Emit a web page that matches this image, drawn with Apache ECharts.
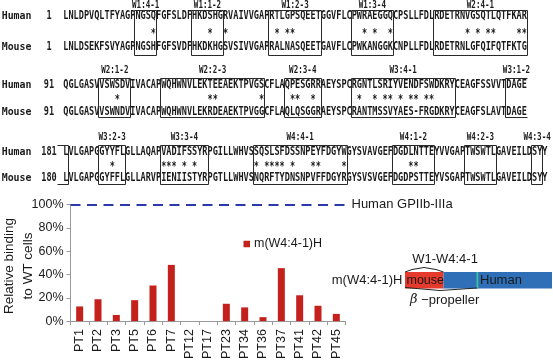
<!DOCTYPE html>
<html><head><meta charset="utf-8">
<script src="https://cdn.jsdelivr.net/npm/echarts@6/dist/echarts.min.js"></script>
<style>html,body{margin:0;padding:0;background:#fff}#c{width:553px;height:362px}</style>
</head><body><div id="c"></div>
<script>
// ---------- bar chart data ----------
const categories = ['PT1','PT2','PT3','PT5','PT6','PT7','PT12','PT17','PT23','PT34','PT36','PT37','PT41','PT42','PT45'];
const binding = [12.6, 18.8, 5.3, 18.0, 30.6, 48.3, 0, 0, 14.9, 11.8, 3.4, 45.5, 22.2, 13.2, 6.2];
const seriesName = 'm(W4:4-1)H';
const referenceLevel = 100;
const referenceName = 'Human GPIIb-IIIa';
const yTickLabels = ['0%','20%','40%','60%','80%','100%'];
const yAxisTitle = ['Relative binding', 'to WT cells'];

// ---------- alignment data ----------
const humanSeq = [
  'LNLDPVQLTFYAGPNGSQFGFSLDFHKDSHGRVAIVVGAPRTLGPSQEETGGVFLCPWRAEGGQCPSLLFDLRDETRNVGSQTLQTFKAR',
  'QGLGASVVSWSDVIVACAPWQHWNVLEKTEEAEKTPVGSCFLAQPESGRRAEYSPCRGNTLSRIYVENDFSWDKRYCEAGFSSVVTDAGE',
  'LVLGAPGGYYFLGLLAQAPVADIFSSYRPGILLWHVSSQSLSFDSSNPEYFDGYWGYSVAVGEFDGDLNTTEYVVGAPTWSWTLGAVEILDSYY'
];
const mouseSeq = [
  'LNLDSEKFSVYAGPNGSHFGFSVDFHKDKHGSVSIVVGAPRALNASQEETGAVFLCPWKANGGKCNPLLFDLRDETRNLGFQIFQTFKTG',
  'QGLGASVVSWNDVIVACAPWQHWNVLEKRDEAEKTPVGGCFLAQLQSGGRAEYSPCRANTMSSVYAES-FRGDKRYCEAGFSLAVTDAGE',
  'LVLGAPGGYFFLGLLARVPIENIISTYRPGTLLWHVSNQRFTYDNSNPVFFDGYRGYSVSVGEFDGDPSTTEYVSGAPTWSWTLGAVEILDSYY'
];
const humanStart = ['1', '91', '181'];
const mouseStart = ['1', '91', '180'];
const boxRanges = [
  [[14,17],[25,30],[40,49],[56,63],[72,89]],
  [[7,12],[19,38],[43,49],[56,75]],
  [[7,11],[19,27],[37,54],[64,71],[78,83],[91,92]]
];
const boxLabels = [
  ['W1:4-1','W1:1-2','W1:2-3','W1:3-4','W2:4-1'],
  ['W2:1-2','W2:2-3','W2:3-4','W3:4-1'],
  ['W3:2-3','W3:3-4','W4:4-1','W4:1-2','W4:2-3','W4:3-4']
];
const splitBoxLabel = 'W3:1-2';
const splitBoxStart = 86;  // row 2 index where the box opens; closes after first residue of row 3
const starIdx = [
  [17,28,31,41,43,44,58,60,63,78,80,82,83,88,89],
  [10,28,29,38,44,45,48,57,60,62,63,65,67,68,70,71],
  [9,19,20,21,23,25,37,39,40,41,42,44,48,49,54,67,68]
];

// ---------- layout ----------
const X0 = 63.3, CW = 5.15;
const ROWS = [
  {lab:5,    hum:16.5,  star:31.7,  mou:47.5,  top:10,   bot:55},
  {lab:70.5, hum:85.3,  star:97.5,  mou:112.5, top:78.3, bot:117.3},
  {lab:137,  hum:152,   star:164.5, mou:178.5, top:145,  bot:183.5}
];
const MONO = 'DejaVu Sans Mono';
const SANS = 'Liberation Sans';
const SEQ_FS = 11.5, SEQ_SX = CW / (0.602 * SEQ_FS);

function t(x, y, s, o) {
  o = o || {};
  const al = o.align || 'left';
  return {
    type: 'text', x: x, y: y, silent: true,
    scaleX: o.sx || 1, scaleY: o.sy || 1, rotation: o.rot || 0,
    style: {
      text: s, x: 0, y: 0,
      fontFamily: o.ff || MONO, fontSize: o.fs || SEQ_FS, fontWeight: o.fw || 'normal',
      fill: o.fill || '#1a1a1a',
      align: al, textAlign: al, verticalAlign: 'middle', textVerticalAlign: 'middle',
      rich: o.rich
    }
  };
}
function line(points, color) {
  return {type: 'polyline', silent: true, shape: {points: points},
    style: {fill: null, stroke: color || '#2a2a2a', lineWidth: 1}};
}

const g = [];
for (let r = 0; r < 3; r++) {
  const R = ROWS[r];
  g.push(t(1.7, R.hum, 'Human', {fs: 11, sx: 0.9, fw: 'bold'}));
  g.push(t(1.7, R.mou, 'Mouse', {fs: 11, sx: 0.9, fw: 'bold'}));
  g.push(t(49, R.hum, humanStart[r], {sx: SEQ_SX, align: 'center', fw: 'bold'}));
  g.push(t(49, R.mou, mouseStart[r], {sx: SEQ_SX, align: 'center', fw: 'bold'}));
  g.push(t(X0, R.hum, humanSeq[r], {sx: SEQ_SX, fw: 'bold'}));
  g.push(t(X0, R.mou, mouseSeq[r], {sx: SEQ_SX, fw: 'bold'}));
  boxRanges[r].forEach(function (b, k) {
    const x1 = Math.round(X0 + b[0] * CW) - 0.5;
    const x2 = Math.round(X0 + (b[1] + 1) * CW) + 0.5;
    const y1 = Math.round(R.top) + 0.5, y2 = Math.round(R.bot) + 0.5;
    g.push(line([[x1, y1], [x2, y1], [x2, y2], [x1, y2], [x1, y1]]));
    g.push(t(X0 + (b[0] + b[1] + 1) / 2 * CW, R.lab, boxLabels[r][k], {fs: 10.5, sx: 0.72, align: 'center', fw: 'bold'}));
  });
  starIdx[r].forEach(function (i) {
    g.push(t(X0 + (i + 0.5) * CW, R.star + 2.5, '*', {sx: SEQ_SX, align: 'center', fw: 'bold'}));
  });
}
// split box W3:1-2 (row 2 -> row 3)
(function () {
  const R = ROWS[1];
  const xs = Math.round(X0 + splitBoxStart * CW) - 0.5;
  const xe = Math.round(X0 + humanSeq[1].length * CW) + 0.5;
  const top = Math.round(R.top) + 0.5, bot = Math.round(R.bot) + 0.5;
  g.push(line([[xe, top], [xs, top], [xs, bot], [xe, bot]]));
  g.push(t(X0 + (splitBoxStart + humanSeq[1].length) / 2 * CW, R.lab, splitBoxLabel, {fs: 10.5, sx: 0.72, align: 'center', fw: 'bold'}));
  const R3 = ROWS[2];
  const xc = Math.round(X0 + CW) + 0.5;
  const t3 = Math.round(R3.top) + 0.5, b3 = Math.round(R3.bot) + 0.5;
  g.push(line([[57.5, t3], [xc, t3], [xc, b3], [57.5, b3]]));
})();

// y axis title
g.push(t(9.5, 266, yAxisTitle[0], {ff: SANS, fs: 13.5, rot: Math.PI / 2, align: 'center'}));
g.push(t(28.5, 266, yAxisTitle[1], {ff: SANS, fs: 13.5, rot: Math.PI / 2, align: 'center'}));

// construct diagram
g.push(t(402.5, 280, 'm(W4:4-1)H', {ff: SANS, fs: 13, align: 'right'}));
g.push({type: 'rect', silent: true, shape: {x: 405, y: 272, width: 38.5, height: 16.5, r: 0}, style: {fill: '#e63a2c', stroke: null}});
g.push({type: 'rect', silent: true, shape: {x: 443.5, y: 272, width: 108.5, height: 16.5, r: 0}, style: {fill: '#2f6fb7', stroke: null}});
g.push({type: 'rect', silent: true, shape: {x: 476.5, y: 272, width: 1.8, height: 16.5, r: 0}, style: {fill: '#3cc0a0', stroke: null}});
g.push(t(406.5, 280.5, 'mouse', {ff: SANS, fs: 12.5}));
g.push(t(480, 280.5, 'Human', {ff: SANS, fs: 13}));
g.push(line([[405, 272], [412, 269.5], [424, 267.5], [436, 269.5], [443.5, 272]], '#222'));
g.push(line([[405, 287.5], [440, 290.5], [477, 288]], '#222'));
g.push(t(445, 259.5, 'W1-W4:4-1', {ff: SANS, fs: 13, align: 'center'}));
g.push(t(410, 300, '{b|β} −propeller', {ff: SANS, fs: 13,
  rich: {b: {fontFamily: 'DejaVu Serif', fontStyle: 'italic', fontSize: 13, fill: '#1a1a1a'}}}));

const chart = echarts.init(document.getElementById('c'), null, {renderer: 'canvas'});
chart.setOption({
  animation: false,
  backgroundColor: '#fff',
  textStyle: {fontFamily: SANS},
  grid: {left: 70.5, right: 207.5, top: 204.7, bottom: 38.7, containLabel: false},
  legend: {
    data: [seriesName], left: 243.5, top: 237.5, padding: 0,
    icon: 'rect', itemWidth: 6.5, itemHeight: 6.5, itemGap: 5,
    textStyle: {fontFamily: SANS, fontSize: 12.5, color: '#1a1a1a', padding: [0, 0, 0, -1]}
  },
  xAxis: {
    type: 'category', data: categories,
    axisLine: {show: true, lineStyle: {color: '#9a9a9a', width: 1}},
    axisTick: {show: true, length: 4, alignWithLabel: false, lineStyle: {color: '#9a9a9a'}},
    axisLabel: {rotate: 90, interval: 0, margin: 8, color: '#1a1a1a', fontFamily: SANS, fontSize: 12.5},
    splitLine: {show: false}
  },
  yAxis: {
    type: 'value', min: 0, max: 100, interval: 20,
    axisLine: {show: true, lineStyle: {color: '#9a9a9a', width: 1}},
    axisTick: {show: true, length: 4, lineStyle: {color: '#9a9a9a'}},
    axisLabel: {margin: 7, color: '#1a1a1a', fontFamily: SANS, fontSize: 12.5,
      formatter: function (v) { return yTickLabels[Math.round(v / 20)]; }},
    splitLine: {show: false}
  },
  series: [{
    name: seriesName, type: 'bar', data: binding, barWidth: 7,
    itemStyle: {color: '#c4211d'},
    markLine: {
      silent: true, symbol: 'none', animation: false,
      data: [{yAxis: referenceLevel}],
      lineStyle: {color: '#2a3aa8', width: 2, type: [10, 6.5]},
      label: {show: true, position: 'end', distance: 6, formatter: referenceName,
        color: '#1a1a1a', fontFamily: SANS, fontSize: 13}
    }
  }],
  graphic: {elements: g}
});
</script></body></html>
